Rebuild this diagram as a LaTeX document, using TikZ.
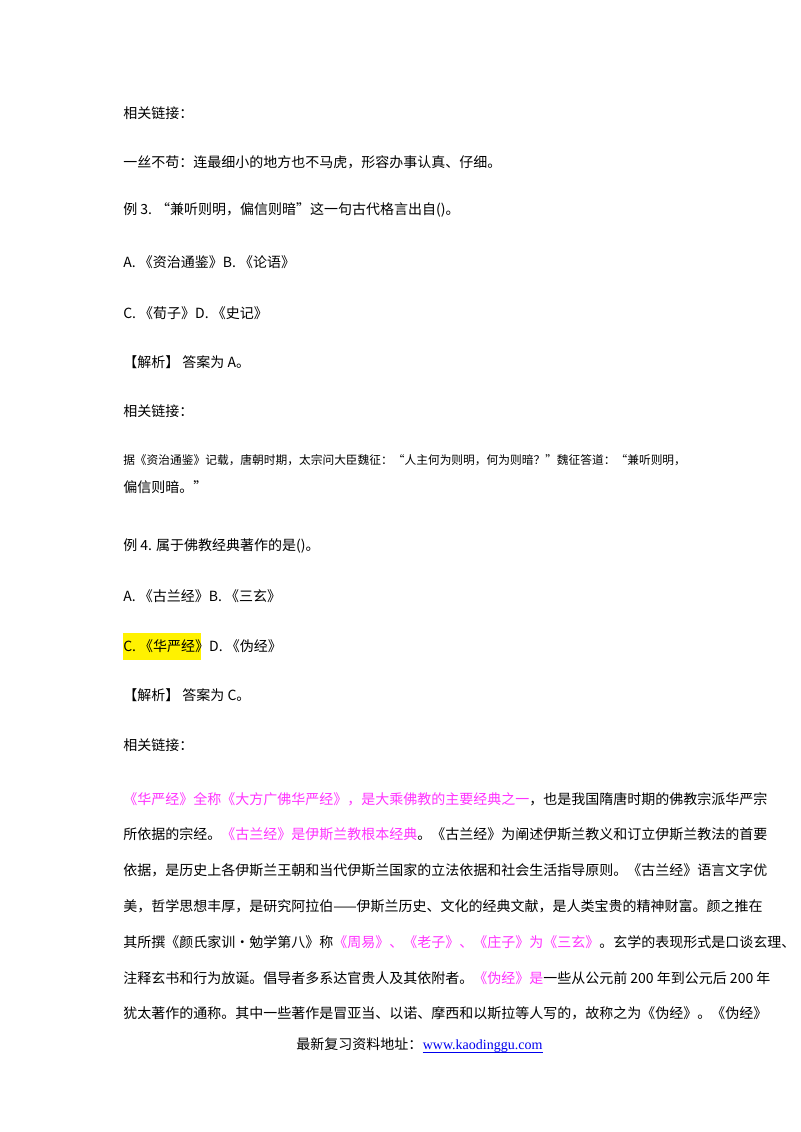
\documentclass[tikz,border=0pt]{standalone}
\usepackage{fontspec}
\usepackage{graphicx}
\setmainfont{Liberation Serif}
\newfontfamily\cjk{Noto Sans CJK SC}
\definecolor{mg}{HTML}{FF33FF}
\definecolor{lk}{HTML}{0000EE}
\begin{document}
\begin{tikzpicture}[x=0.75pt,y=-0.75pt,
  t/.style={anchor=west,inner sep=0pt,font=\cjk\fontsize{10.5pt}{12pt}\selectfont}]
\useasboundingbox[fill=white] (0,0) rectangle (800,1132);
\fill[yellow] (123,633) rectangle (201,660);
\node[t] (l1) at (123,113) {相关链接：};
\node[t] (l2) at (123,162) {一丝不苟：连最细小的地方也不马虎，形容办事认真、仔细。};
\node[t] (l3) at (123,210) {例 3. “兼听则明，偏信则暗”这一句古代格言出自()。};
\node[t] (l4) at (123,262) {A. 《资治通鉴》B. 《论语》};
\node[t] (l5) at (123,313) {C. 《荀子》D. 《史记》};
\node[t] (l6) at (123,362) {【解析】 答案为 A。};
\node[t] (l7) at (123,411) {相关链接：};
\node[t] (l8) at (123,460) {\resizebox{422pt}{!}{据《资治通鉴》记载，唐朝时期，太宗问大臣魏征：“人主何为则明，何为则暗？”魏征答道：“兼听则明，}};
\node[t] (l9) at (123,487) {偏信则暗。”};
\node[t] (l10) at (123,546) {例 4. 属于佛教经典著作的是()。};
\node[t] (l11) at (123,596) {A. 《古兰经》B. 《三玄》};
\node[t] (l12) at (123,646) {C. 《华严经》D. 《伪经》};
\node[t] (l13) at (123,695) {【解析】 答案为 C。};
\node[t] (l14) at (123,745) {相关链接：};
\node[t] (p1) at (123,799) {\textcolor{mg}{《华严经》全称《大方广佛华严经》，是大乘佛教的主要经典之一}，也是我国隋唐时期的佛教宗派华严宗};
\node[t] (p2) at (123,834) {所依据的宗经。\textcolor{mg}{《古兰经》是伊斯兰教根本经典}。《古兰经》为阐述伊斯兰教义和订立伊斯兰教法的首要};
\node[t] (p3) at (123,870) {依据，是历史上各伊斯兰王朝和当代伊斯兰国家的立法依据和社会生活指导原则。《古兰经》语言文字优};
\node[t] (p4) at (123,906) {美，哲学思想丰厚，是研究阿拉伯——伊斯兰历史、文化的经典文献，是人类宝贵的精神财富。颜之推在};
\node[t] (p5) at (123,942) {其所撰《颜氏家训·勉学第八》称\textcolor{mg}{《周易》、《老子》、《庄子》为《三玄》}。玄学的表现形式是口谈玄理、};
\node[t] (p6) at (123,978) {注释玄书和行为放诞。倡导者多系达官贵人及其依附者。\textcolor{mg}{《伪经》是}一些从公元前 200 年到公元后 200 年};
\node[t] (p7) at (123,1013) {犹太著作的通称。其中一些著作是冒亚当、以诺、摩西和以斯拉等人写的，故称之为《伪经》。《伪经》};
\node[t] (ft) at (296,1044) {最新复习资料地址：};
\node[t,text=lk,font=\rmfamily\fontsize{10.5pt}{12pt}\selectfont,anchor=base west] (lnk) at (ft.base east) {www.kaodinggu.com\ };
\draw[lk,line width=0.6pt] ([yshift=-2pt]lnk.base west) -- ([yshift=-2pt]lnk.base east);
\end{tikzpicture}
\end{document}
